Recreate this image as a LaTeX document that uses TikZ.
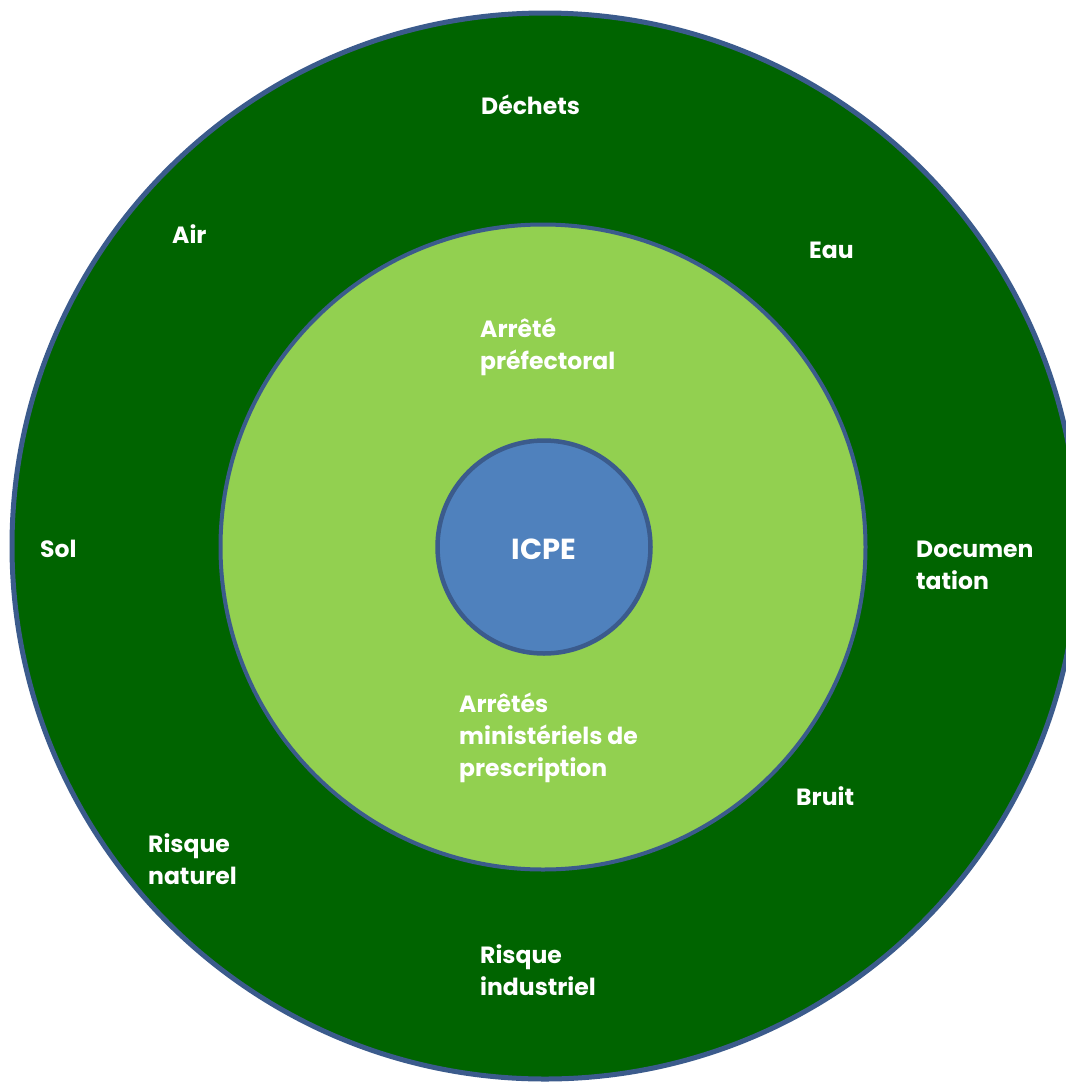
\documentclass[tikz,border=0pt]{standalone}
\usepackage{fontspec}
\setmainfont{Poppins}
\definecolor{outerfill}{RGB}{0,100,0}
\definecolor{midfill}{RGB}{146,208,80}
\definecolor{corefill}{RGB}{79,129,189}
\definecolor{ringline}{RGB}{59,91,140}
\begin{document}
\begin{tikzpicture}[x=1pt,y=-1pt,
  lbl/.style={text=white,font=\fontsize{23.5}{32}\selectfont\bfseries,inner sep=0pt,align=left,anchor=west},
  ring/.style={circle,draw=ringline,inner sep=0pt}]
\useasboundingbox (0,0) rectangle (1066,1085);
\node[ring,fill=outerfill,line width=5pt,minimum size=1066pt] (outer) at (545,546) {};
\node[ring,fill=midfill,line width=4pt,minimum size=645pt] (mid) at (543,547) {};
\node[ring,fill=corefill,line width=4.5pt,minimum size=213pt] (core) at (544,547) {};
\node[text=white,font=\fontsize{29}{34}\selectfont\bfseries] (icpe) at (544,549) {ICPE};
\node[lbl] (dechets) at (481,105) {Déchets};
\node[lbl] (air) at (172,234) {Air};
\node[lbl] (eau) at (809,250) {Eau};
\node[lbl] (ap) at (480,347) {Arrêté\\préfectoral};
\node[lbl] (sol) at (40,549) {Sol};
\node[lbl] (doc) at (916,565) {Documen\\tation};
\node[lbl] (am) at (459,738) {Arrêtés\\ministériels de\\prescription};
\node[lbl] (bruit) at (796,796) {Bruit};
\node[lbl] (rn) at (148,859) {Risque\\naturel};
\node[lbl] (ri) at (480,970) {Risque\\industriel};
\end{tikzpicture}
\end{document}
